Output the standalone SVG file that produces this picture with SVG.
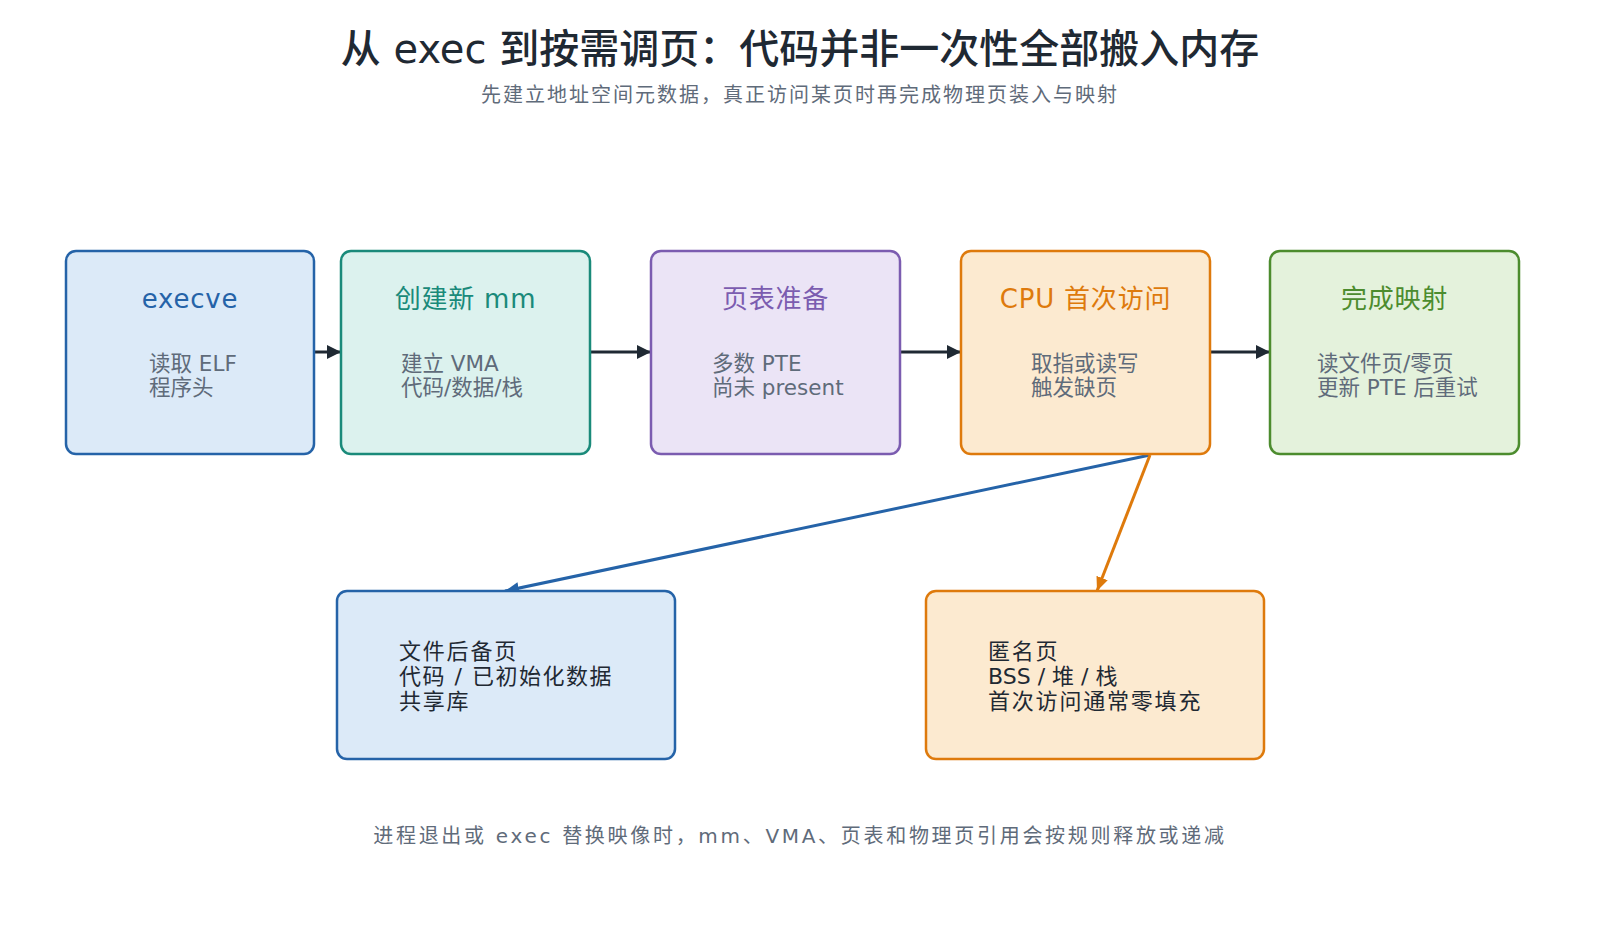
<svg xmlns="http://www.w3.org/2000/svg" width="1600" height="930" viewBox="0 0 1600 930">
<defs>
<style>
text{font-family:"DejaVu Sans","Noto Sans CJK SC",sans-serif;}
.title{font-size:40px;fill:#1f2933;text-anchor:middle;font-weight:500;}
.sub{font-size:20px;fill:#5f6b7a;text-anchor:middle;letter-spacing:2px;}
.foot{font-size:20px;fill:#5f6b7a;text-anchor:middle;letter-spacing:2.7px;}
.nt{font-size:26px;text-anchor:middle;letter-spacing:0.8px;}
.nb{font-size:21.5px;fill:#5f6b7a;}
.bb{font-size:22px;fill:#1f2933;letter-spacing:1.8px;}
.box{stroke-width:2.5;}
.blue{fill:#dceaf8;stroke:#2563a8;}
.teal{fill:#dcf2ee;stroke:#1a8a7a;}
.purple{fill:#ebe4f6;stroke:#7b5cb0;}
.orange{fill:#fcead0;stroke:#de7a0c;}
.green{fill:#e4f2dc;stroke:#4c8c2e;}
.edge{fill:none;stroke-width:3;}
</style>
<marker id="ak" viewBox="0 0 14 14" refX="14" refY="7" markerWidth="14" markerHeight="14" markerUnits="userSpaceOnUse" orient="auto"><path d="M0,0 L14,7 L0,14 z" fill="#1f2933"/></marker>
<marker id="ab" viewBox="0 0 14 12" refX="14" refY="6" markerWidth="14" markerHeight="12" markerUnits="userSpaceOnUse" orient="auto"><path d="M0,0 L14,6 L0,12 z" fill="#2563a8"/></marker>
<marker id="ao" viewBox="0 0 14 12" refX="14" refY="6" markerWidth="14" markerHeight="12" markerUnits="userSpaceOnUse" orient="auto"><path d="M0,0 L14,6 L0,12 z" fill="#de7a0c"/></marker>
</defs>
<rect width="1600" height="930" fill="#ffffff"/>
<text class="title" x="800" y="63">从 exec 到按需调页：代码并非一次性全部搬入内存</text>
<text class="sub" x="800" y="102">先建立地址空间元数据，真正访问某页时再完成物理页装入与映射</text>

<g id="connectors">
<line class="edge" x1="314" y1="352" x2="341" y2="352" stroke="#1f2933" marker-end="url(#ak)"/>
<line class="edge" x1="590" y1="352" x2="651" y2="352" stroke="#1f2933" marker-end="url(#ak)"/>
<line class="edge" x1="900" y1="352" x2="961" y2="352" stroke="#1f2933" marker-end="url(#ak)"/>
<line class="edge" x1="1210" y1="352" x2="1270" y2="352" stroke="#1f2933" marker-end="url(#ak)"/>
<line class="edge" x1="1150" y1="455" x2="505" y2="591" stroke="#2563a8" stroke-width="2.5" marker-end="url(#ab)"/>
<line class="edge" x1="1150" y1="455" x2="1097" y2="591" stroke="#de7a0c" stroke-width="2.5" marker-end="url(#ao)"/>
</g>

<g id="n-execve">
<rect class="box blue" x="66" y="251" width="248" height="203" rx="10"/>
<text class="nt" x="190" y="308" fill="#2563a8">execve</text>
<text class="nb"><tspan x="149" y="371">读取 ELF</tspan><tspan x="149" y="395">程序头</tspan></text>
</g>
<g id="n-mm">
<rect class="box teal" x="341" y="251" width="249" height="203" rx="10"/>
<text class="nt" x="465.5" y="308" fill="#1a8a7a">创建新 mm</text>
<text class="nb"><tspan x="401" y="371">建立 VMA</tspan><tspan x="401" y="395">代码/数据/栈</tspan></text>
</g>
<g id="n-pt">
<rect class="box purple" x="651" y="251" width="249" height="203" rx="10"/>
<text class="nt" x="775.5" y="308" fill="#7b5cb0">页表准备</text>
<text class="nb"><tspan x="712" y="371">多数 PTE</tspan><tspan x="712" y="395">尚未 present</tspan></text>
</g>
<g id="n-cpu">
<rect class="box orange" x="961" y="251" width="249" height="203" rx="10"/>
<text class="nt" x="1085.5" y="308" fill="#de7a0c">CPU 首次访问</text>
<text class="nb"><tspan x="1031" y="371">取指或读写</tspan><tspan x="1031" y="395">触发缺页</tspan></text>
</g>
<g id="n-map">
<rect class="box green" x="1270" y="251" width="249" height="203" rx="10"/>
<text class="nt" x="1394.5" y="308" fill="#4c8c2e">完成映射</text>
<text class="nb"><tspan x="1317" y="371">读文件页/零页</tspan><tspan x="1317" y="395">更新 PTE 后重试</tspan></text>
</g>
<g id="n-file">
<rect class="box blue" x="337" y="591" width="338" height="168" rx="10"/>
<text class="bb"><tspan x="399" y="659">文件后备页</tspan><tspan x="399" y="684" letter-spacing="1.5">代码 / 已初始化数据</tspan><tspan x="399" y="709">共享库</tspan></text>
</g>
<g id="n-anon">
<rect class="box orange" x="926" y="591" width="338" height="168" rx="10"/>
<text class="bb"><tspan x="988" y="659">匿名页</tspan><tspan x="988" y="684" letter-spacing="0">BSS / 堆 / 栈</tspan><tspan x="988" y="709">首次访问通常零填充</tspan></text>
</g>
<text class="foot" x="800" y="843">进程退出或 exec 替换映像时，mm、VMA、页表和物理页引用会按规则释放或递减</text>
</svg>
